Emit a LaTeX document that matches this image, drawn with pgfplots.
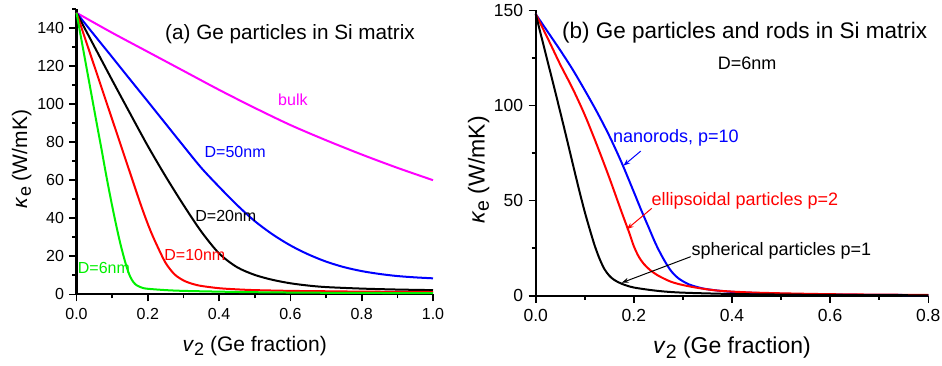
\documentclass[border=0pt]{standalone}
\usepackage{fontspec}
\setmainfont{Liberation Sans}
\usepackage{pgfplots}
\pgfplotsset{compat=1.18}
\usetikzlibrary{arrows.meta}
\definecolor{cmag}{RGB}{255,0,255}
\definecolor{cblue}{RGB}{0,0,255}
\definecolor{cred}{RGB}{255,0,0}
\definecolor{cgreen}{RGB}{0,240,0}
\pgfplotsset{
  myaxis/.style={
    scale only axis,
    axis lines=left,
    axis line style={-, line width=2.2pt},
    tick align=outside,
    major tick length=7pt,
    minor tick length=4pt,
    tick style={black, line width=1.6pt},
    clip=false,
    /pgf/number format/assume math mode=true,
    every axis plot/.append style={line width=2pt, smooth, no marks},
  }
}
\begin{document}
\begin{tikzpicture}
\useasboundingbox (0,0) rectangle (942pt,365pt);
% ---------------- panel (a)
\begin{axis}[myaxis,
  at={(76.5pt,70.7pt)}, anchor=south west,
  width=356.5pt, height=285.3pt,
  xmin=0, xmax=1, ymin=0, ymax=150,
  xtick={0,0.2,0.4,0.6,0.8,1}, minor xtick={0.1,0.3,0.5,0.7,0.9},
  ytick={0,20,40,60,80,100,120,140}, minor ytick={10,30,50,70,90,110,130,150},
  tick label style={font=\fontsize{16}{16}\selectfont},
  x tick label style={yshift=-3pt, /pgf/number format/.cd, fixed, fixed zerofill, precision=1},
  y tick label style={xshift=-2pt},
  xlabel={\textit{v}\raisebox{-0.35ex}{\fontsize{18}{18}\selectfont 2} (Ge fraction)},
  ylabel={\textit{κ}\raisebox{-0.35ex}{\fontsize{18}{18}\selectfont e} (W/mK)},
  label style={font=\fontsize{21}{21}\selectfont},
  xlabel style={at={(axis description cs:0.5,-0.181)}, anchor=center},
  ylabel style={at={(axis description cs:-0.154,0.474)}, anchor=center},
]
\addplot[cmag] coordinates {(0,148) (0.1,137.5) (0.2,127.5) (0.3,117.5) (0.4,107.5) (0.5,98) (0.6,89) (0.7,81) (0.8,73.5) (0.9,66.5) (1.0,60)};
\addplot[cblue] coordinates {(0,148) (0.05,136.3) (0.1,124.7) (0.15,113) (0.2,101.4) (0.25,89.7) (0.3,78) (0.35,66.5) (0.4,56.5) (0.45,47) (0.5,38.5) (0.55,31.5) (0.6,25.7) (0.65,21) (0.7,17.2) (0.75,14.3) (0.8,12.2) (0.85,10.7) (0.9,9.6) (0.95,8.9) (1.0,8.4)};
\addplot[black] coordinates {(0,148) (0.05,130.3) (0.1,112.6) (0.15,95.2) (0.2,78) (0.25,62) (0.3,47) (0.35,33) (0.4,21.5) (0.45,14.3) (0.5,10.2) (0.55,7.6) (0.6,5.8) (0.65,4.6) (0.7,3.8) (0.8,3.0) (0.9,2.5) (1.0,2.2)};
\addplot[cred] coordinates {(0,148) (0.05,120) (0.1,92) (0.125,78) (0.15,64) (0.175,50) (0.19,42) (0.2,37) (0.21,32.3) (0.225,26) (0.25,16.5) (0.275,10.5) (0.3,7.3) (0.325,5.5) (0.35,4.4) (0.4,3.2) (0.45,2.6) (0.5,2.2) (0.6,1.8) (0.7,1.6) (0.8,1.4) (0.9,1.3) (1.0,1.2)};
\addplot[cgreen] coordinates {(0,148) (0.02,127.5) (0.04,107) (0.06,86.5) (0.07,76.5) (0.08,66) (0.09,56) (0.1,46.5) (0.11,37.5) (0.12,29) (0.13,21.5) (0.14,14.8) (0.15,9.5) (0.16,6.3) (0.17,4.6) (0.185,3.4) (0.2,2.9) (0.25,2.2) (0.3,1.8) (0.4,1.4) (0.5,1.1) (0.7,0.8) (1.0,0.6)};
\node[font=\fontsize{20.7}{20.7}\selectfont] at (axis cs:0.599,137) {(a) Ge particles in Si matrix};
\node[font=\fontsize{16}{16}\selectfont, text=cmag] at (axis cs:0.607,102.3) {bulk};
\node[font=\fontsize{16}{16}\selectfont, text=cblue] at (axis cs:0.445,74.9) {D=50nm};
\node[font=\fontsize{16}{16}\selectfont, text=black] at (axis cs:0.419,41.4) {D=20nm};
\node[font=\fontsize{16}{16}\selectfont, text=cred] at (axis cs:0.332,20.7) {D=10nm};
\node[font=\fontsize{16}{16}\selectfont, text=cgreen] at (axis cs:0.077,13.8) {D=6nm};
\end{axis}
% ---------------- panel (b)
\begin{axis}[myaxis,
  at={(535.7pt,69.3pt)}, anchor=south west,
  width=392.6pt, height=285.4pt,
  xmin=0, xmax=0.8, ymin=0, ymax=150,
  xtick={0,0.2,0.4,0.6,0.8}, minor xtick={0.1,0.3,0.5,0.7},
  ytick={0,50,100,150}, minor ytick={25,75,125},
  tick label style={font=\fontsize{17.5}{17.5}\selectfont},
  x tick label style={yshift=-3pt, /pgf/number format/.cd, fixed, fixed zerofill, precision=1},
  y tick label style={xshift=-2pt},
  xlabel={\textit{v}\raisebox{-0.35ex}{\fontsize{19.5}{19.5}\selectfont 2} (Ge fraction)},
  ylabel={\textit{κ}\raisebox{-0.35ex}{\fontsize{19.5}{19.5}\selectfont e} (W/mK)},
  label style={font=\fontsize{23}{23}\selectfont},
  xlabel style={at={(axis description cs:0.5,-0.183)}, anchor=center},
  ylabel style={at={(axis description cs:-0.145,0.44)}, anchor=center},
]
\addplot[cblue] coordinates {(0,148) (0.025,138.5) (0.05,129) (0.075,119) (0.1,108) (0.125,96.5) (0.15,84) (0.175,70) (0.2,54.5) (0.215,45) (0.23,36) (0.245,27) (0.26,19.5) (0.275,13.3) (0.29,9.3) (0.31,6.2) (0.33,4.5) (0.35,3.4) (0.4,2.0) (0.5,1.0) (0.6,0.6) (0.8,0.3)};
\addplot[cred] coordinates {(0,148) (0.025,135) (0.05,121.5) (0.075,109) (0.1,95) (0.125,79) (0.15,62) (0.175,44) (0.19,33.5) (0.2,26) (0.21,20.5) (0.22,16.8) (0.233,13.5) (0.25,10.5) (0.275,7.4) (0.3,5.6) (0.335,3.9) (0.375,2.6) (0.45,1.6) (0.6,0.8) (0.8,0.4)};
\addplot[black] coordinates {(0,148) (0.02,127.5) (0.04,107) (0.06,86) (0.08,64.5) (0.09,54) (0.1,44) (0.11,35) (0.12,26.5) (0.13,19.5) (0.14,14) (0.15,10.5) (0.16,8.3) (0.175,6.3) (0.2,4.3) (0.25,2.5) (0.3,1.6) (0.4,0.9) (0.5,0.6) (0.6,0.4) (0.8,0.2)};
\node[font=\fontsize{22.5}{22.5}\selectfont] at (axis cs:0.4259,138.3) {(b) Ge particles and rods in Si matrix};
\node[font=\fontsize{18}{18}\selectfont] at (axis cs:0.4306,122.1) {D=6nm};
\node[font=\fontsize{18}{18}\selectfont, text=cblue] at (axis cs:0.2855,83.1) {nanorods, p=10};
\node[font=\fontsize{18}{18}\selectfont, text=cred] at (axis cs:0.4265,49.8) {ellipsoidal particles p=2};
\node[font=\fontsize{18}{18}\selectfont, text=black] at (axis cs:0.5005,23.5) {spherical particles p=1};
\draw[cblue, line width=1pt, -{Stealth[length=7pt,width=5pt]}] (axis cs:0.214,76) -- (axis cs:0.1785,68.3);
\draw[cred, line width=1pt, -{Stealth[length=7pt,width=5pt]}] (axis cs:0.2364,45.9) -- (axis cs:0.1854,34.9);
\draw[black, line width=1pt, -{Stealth[length=7pt,width=5pt]}] (axis cs:0.3158,20.5) -- (axis cs:0.1752,6.8);
\end{axis}
\end{tikzpicture}
\end{document}
